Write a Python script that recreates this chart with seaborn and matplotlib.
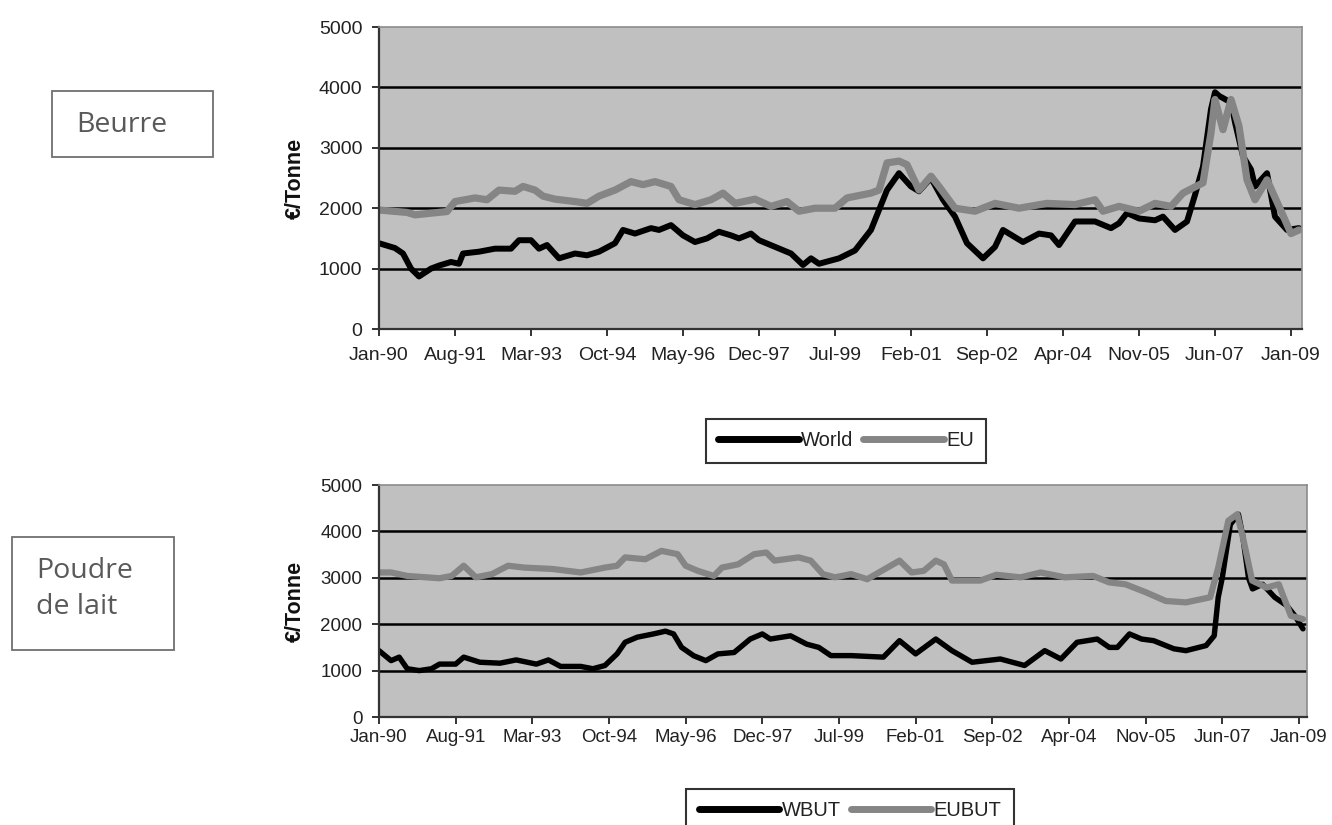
import matplotlib
matplotlib.use("Agg")
import matplotlib.pyplot as plt
from matplotlib.patches import Rectangle
from matplotlib.lines import Line2D
import seaborn as sns
import numpy as np

# ---------------- data (month index: 0 = Jan-90) ----------------
tick_months = [0, 19, 38, 57, 76, 95, 114, 133, 152, 171, 190, 209, 228]
tick_labels = ["Jan-90", "Aug-91", "Mar-93", "Oct-94", "May-96", "Dec-97", "Jul-99",
               "Feb-01", "Sep-02", "Apr-04", "Nov-05", "Jun-07", "Jan-09"]

# Butter - World
butter_world_m = [0, 4, 6, 8, 10, 13, 15, 18, 20, 21, 25, 29, 33, 35, 38, 40, 42, 45, 49, 52,
                  55, 59, 61, 64, 68, 70, 73, 76, 79, 82, 85, 88, 90, 93, 95, 99, 103, 106, 108,
                  110, 115, 119, 123, 125, 127, 130, 133, 135, 138, 141, 144, 147, 151, 154, 156,
                  161, 165, 168, 170, 174, 179, 183, 185, 187, 190, 194, 196, 199, 202, 204, 206,
                  208, 209, 210, 213, 214, 216, 218, 219, 222, 224, 227, 230]
butter_world_v = [1420, 1340, 1250, 1000, 870, 1000, 1050, 1110, 1080, 1250, 1280, 1330, 1330,
                  1470, 1470, 1330, 1390, 1170, 1250, 1220, 1280, 1420, 1640, 1580, 1670, 1640,
                  1720, 1550, 1440, 1500, 1610, 1550, 1500, 1580, 1470, 1360, 1250, 1060, 1170,
                  1080, 1170, 1300, 1640, 1970, 2300, 2580, 2360, 2280, 2500, 2140, 1860, 1420,
                  1170, 1360, 1640, 1440, 1580, 1550, 1390, 1780, 1780, 1670, 1750, 1920, 1830,
                  1800, 1860, 1640, 1780, 2220, 2690, 3640, 3920, 3860, 3750, 3420, 2860, 2640,
                  2360, 2580, 1860, 1640, 1670]

# Butter - EU
butter_eu_m = [0, 7, 9, 17, 19, 24, 27, 30, 34, 36, 39, 41, 44, 49, 52, 55, 59, 63, 66, 69, 73,
               75, 79, 83, 86, 89, 94, 98, 102, 105, 109, 114, 117, 123, 125, 127, 130, 132, 135,
               138, 140, 144, 149, 154, 160, 167, 174, 179, 181, 185, 190, 194, 198, 201, 206,
               208, 209, 211, 213, 215, 217, 219, 222, 225, 228, 230]
butter_eu_v = [1970, 1930, 1890, 1945, 2110, 2170, 2140, 2300, 2280, 2360, 2300, 2200, 2150,
               2110, 2080, 2200, 2300, 2440, 2390, 2440, 2360, 2140, 2060, 2140, 2250, 2080,
               2150, 2030, 2110, 1950, 2000, 2000, 2170, 2250, 2300, 2750, 2780, 2720, 2300,
               2530, 2360, 2000, 1950, 2080, 2000, 2080, 2060, 2140, 1950, 2030, 1950, 2080,
               2030, 2250, 2420, 3250, 3800, 3300, 3800, 3360, 2470, 2140, 2470, 2030, 1580,
               1640]

# Milk powder - WBUT
powder_world_m = [0, 3, 5, 7, 10, 13, 15, 19, 21, 25, 30, 34, 39, 42, 45, 50, 53, 56, 59, 61,
                  64, 68, 71, 73, 75, 78, 81, 84, 88, 92, 95, 97, 102, 106, 109, 112, 117, 125,
                  129, 133, 138, 142, 147, 154, 160, 165, 169, 173, 178, 181, 183, 186, 189, 192,
                  197, 200, 205, 207, 208, 209, 211, 213, 214, 215.5, 216.5, 219, 222, 225, 227,
                  229]
powder_world_v = [1430, 1215, 1290, 1040, 1000, 1040, 1140, 1140, 1290, 1180, 1160, 1230, 1140,
                  1230, 1090, 1090, 1040, 1110, 1360, 1610, 1720, 1790, 1850, 1790, 1500, 1320,
                  1215, 1360, 1390, 1680, 1790, 1680, 1750, 1570, 1500, 1323, 1323, 1290, 1645,
                  1360, 1680, 1430, 1180, 1250, 1110, 1430, 1250, 1610, 1680, 1500, 1500, 1790,
                  1680, 1645, 1470, 1430, 1540, 1750, 2580, 3000, 4150, 4370, 3940, 3000, 2760,
                  2860, 2580, 2400, 2180, 1900]

# Milk powder - EUBUT
powder_eu_m = [0, 3, 7, 15, 18, 21, 24, 28, 32, 36, 43, 50, 56, 59, 61, 66, 70, 74, 76, 79, 83,
               85, 89, 93, 96, 98, 104, 107, 110, 113, 117, 121, 126, 129, 132, 135, 138, 140,
               142, 149, 153, 159, 164, 170, 177, 181, 185, 190, 195, 200, 206, 208, 210.5,
               212.7, 214.3, 216.4, 220, 223, 226, 229]
powder_eu_v = [3115, 3115, 3040, 2990, 3040, 3260, 3010, 3080, 3260, 3220, 3190, 3115, 3220,
               3260, 3440, 3400, 3580, 3510, 3260, 3150, 3040, 3220, 3290, 3510, 3545, 3370,
               3440, 3370, 3080, 3010, 3080, 2970, 3220, 3370, 3115, 3150, 3370, 3290, 2940,
               2940, 3065, 3010, 3115, 3010, 3040, 2900, 2860, 2690, 2500, 2470, 2580, 3220,
               4230, 4370, 3800, 2940, 2790, 2860, 2180, 2110]

y_ticks = [0, 1000, 2000, 3000, 4000, 5000]

# ---------------- style ----------------
sns.set_theme(style="white")
plt.rcParams["font.family"] = ["Liberation Sans", "DejaVu Sans"]

BLACK = "#000000"
GREY = "#858585"
BG = "#c0c0c0"
TXT = "#222222"

fig = plt.figure(figsize=(13.32, 8.25), dpi=100)
fig.patch.set_facecolor("white")

ax1 = fig.add_axes([379 / 1332, 1 - 329 / 825, (1302 - 379) / 1332, (329 - 27) / 825])
ax2 = fig.add_axes([379 / 1332, 1 - 717 / 825, (1307 - 379) / 1332, (717 - 485) / 825])


def style_axes(ax, xmax, fs, xpad):
    ax.set_facecolor(BG)
    ax.set_xlim(0, xmax)
    ax.set_ylim(0, 5000)
    ax.set_yticks(y_ticks)
    ax.set_yticklabels([str(v) for v in y_ticks], fontsize=fs, color=TXT)
    ax.set_xticks(tick_months)
    ax.set_xticklabels(tick_labels, fontsize=fs, color=TXT)
    ax.yaxis.grid(True, color="black", linewidth=1.8)
    ax.get_ygridlines()[-1].set_visible(False)
    ax.get_ygridlines()[0].set_visible(False)
    ax.xaxis.grid(False)
    ax.set_axisbelow(True)
    for s in ["top", "right"]:
        ax.spines[s].set_color("#8c8c8c")
        ax.spines[s].set_linewidth(1.2)
    for s in ["left", "bottom"]:
        ax.spines[s].set_color("#333333")
        ax.spines[s].set_linewidth(1.6)
    ax.tick_params(axis="x", direction="out", length=5, width=1.4, color="#333333",
                   bottom=True, pad=xpad)
    ax.tick_params(axis="y", direction="out", length=5, width=1.4, color="#333333",
                   left=True, pad=7)
    ax.set_xlabel("")
    ax.set_ylabel("€/Tonne", fontsize=15.5, fontweight="bold", color="#111111")
    ax.yaxis.set_label_coords(-0.079, 0.5)


sns.lineplot(x=butter_world_m, y=butter_world_v, ax=ax1, color=BLACK, linewidth=4.3, label="World")
sns.lineplot(x=butter_eu_m, y=butter_eu_v, ax=ax1, color=GREY, linewidth=5.2, label="EU")
sns.lineplot(x=powder_world_m, y=powder_world_v, ax=ax2, color=BLACK, linewidth=3.9, label="WBUT")
sns.lineplot(x=powder_eu_m, y=powder_eu_v, ax=ax2, color=GREY, linewidth=4.5, label="EUBUT")

style_axes(ax1, 230.75, 14, 8)
style_axes(ax2, 230.0, 13.5, 4)

for ax in (ax1, ax2):
    leg = ax.get_legend()
    if leg is not None:
        leg.remove()

h1 = [Line2D([0], [0], color=BLACK, lw=5), Line2D([0], [0], color=GREY, lw=5)]
leg1 = ax1.legend(h1, ["World", "EU"], loc="center", bbox_to_anchor=(846 / 1332, 1 - 441 / 825),
                  bbox_transform=fig.transFigure, ncol=2, frameon=True, fancybox=False,
                  edgecolor="black", fontsize=14.5, handlelength=4.0, handletextpad=0.1,
                  columnspacing=0.5, borderpad=0.62, borderaxespad=0)
leg1.get_frame().set_linewidth(1.5)
for t in leg1.get_texts():
    t.set_color(TXT)

h2 = [Line2D([0], [0], color=BLACK, lw=5), Line2D([0], [0], color=GREY, lw=5)]
leg2 = ax2.legend(h2, ["WBUT", "EUBUT"], loc="upper center",
                  bbox_to_anchor=(850 / 1332, 1 - 789 / 825),
                  bbox_transform=fig.transFigure, ncol=2, frameon=True, fancybox=False,
                  edgecolor="black", fontsize=14.5, handlelength=4.0, handletextpad=0.1,
                  columnspacing=0.5, borderpad=0.62, borderaxespad=0)
leg2.get_frame().set_linewidth(1.5)
for t in leg2.get_texts():
    t.set_color(TXT)

# ---------------- left labels in boxes ----------------
fig.patches.append(Rectangle((52 / 1332, 1 - 157 / 825), 161 / 1332, 66 / 825,
                             transform=fig.transFigure, fill=False, edgecolor="#707070", lw=1.3))
fig.patches.append(Rectangle((12 / 1332, 1 - 650 / 825), 162 / 1332, 113 / 825,
                             transform=fig.transFigure, fill=False, edgecolor="#707070", lw=1.3))
fig.text(76 / 1332, 1 - 132 / 825, "Beurre", fontsize=20.5, color="#595959",
         family=["Open Sans", "DejaVu Sans"], va="baseline", ha="left")
fig.text(36 / 1332, 1 - 578 / 825, "Poudre", fontsize=20.5, color="#595959",
         family=["Open Sans", "DejaVu Sans"], va="baseline", ha="left")
fig.text(36 / 1332, 1 - 614 / 825, "de lait", fontsize=20.5, color="#595959",
         family=["Open Sans", "DejaVu Sans"], va="baseline", ha="left")

fig.savefig("out.png", dpi=100, facecolor="white")
